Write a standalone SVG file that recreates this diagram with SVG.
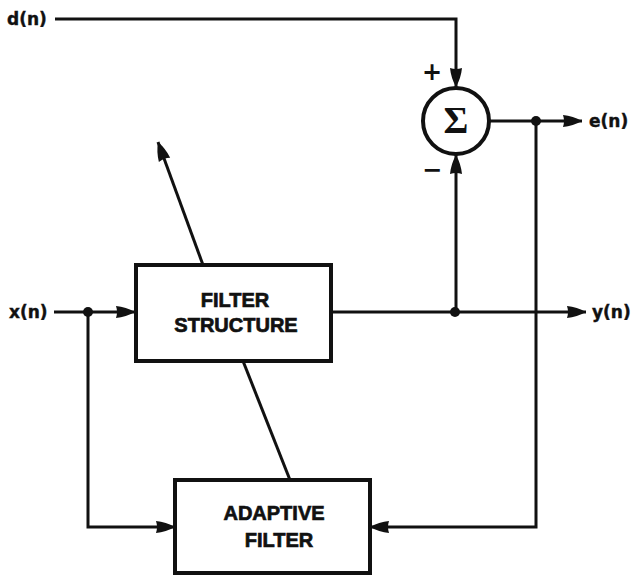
<svg xmlns="http://www.w3.org/2000/svg" width="633" height="575" viewBox="0 0 633 575">
<defs>
<style>
.ln{fill:none;stroke:#111;stroke-width:3;stroke-linejoin:miter}
.box{fill:#fff;stroke:#111;stroke-width:4}
.bt{font-family:"Liberation Sans",Arial,sans-serif;font-weight:bold;font-size:20px;fill:#111;stroke:#111;stroke-width:0.7;text-anchor:middle}
.lb{font-family:"DejaVu Sans",sans-serif;font-weight:bold;font-size:17px;fill:#111;stroke:#111;stroke-width:0.4}
.sg{font-family:"DejaVu Sans",sans-serif;font-weight:bold;font-size:24px;fill:#111;text-anchor:middle}
</style>
<marker id="ah" markerUnits="userSpaceOnUse" markerWidth="24" markerHeight="16" viewBox="-1 -8 22 16" refX="19" refY="0" orient="auto">
<path d="M0,-6 Q10,-5 19,0 Q10,5 0,6 Q2,0 0,-6 Z" fill="#111"/>
</marker>
</defs>
<rect width="633" height="575" fill="#fff"/>
<g id="connectors">
<polyline class="ln" points="55,19 456,19 456,87" marker-end="url(#ah)"/>
<line class="ln" x1="456" y1="312" x2="456" y2="155" marker-end="url(#ah)"/>
<line class="ln" x1="489" y1="121" x2="582" y2="121" marker-end="url(#ah)"/>
<line class="ln" x1="331" y1="312" x2="586" y2="312" marker-end="url(#ah)"/>
<line class="ln" x1="54" y1="312" x2="135" y2="312" marker-end="url(#ah)"/>
<polyline class="ln" points="88,312 88,527 175,527" marker-end="url(#ah)"/>
<polyline class="ln" points="536,121 536,527 370,527" marker-end="url(#ah)"/>
<line class="ln" x1="203" y1="265" x2="158" y2="142" marker-end="url(#ah)"/>
<line class="ln" x1="243" y1="361" x2="290" y2="480"/>
<circle cx="536" cy="121" r="5" fill="#111"/>
<circle cx="455" cy="312" r="5" fill="#111"/>
<circle cx="88" cy="312" r="5" fill="#111"/>
</g>
<g id="sum">
<circle cx="456" cy="121" r="33" fill="#fff" stroke="#111" stroke-width="4"/>
<text x="456" y="133" style="font-family:'Liberation Serif','Times New Roman',serif;font-weight:bold;font-size:38px;fill:#111;text-anchor:middle">Σ</text>
<text x="432" y="80" class="sg">+</text>
<text x="432" y="178" class="sg">−</text>
</g>
<g id="filter-structure">
<rect class="box" x="136" y="265" width="195" height="96"/>
<text class="bt" x="235" y="307">FILTER</text>
<text class="bt" x="236" y="332">STRUCTURE</text>
</g>
<g id="adaptive-filter">
<rect class="box" x="175" y="480" width="195" height="93"/>
<text class="bt" x="274" y="520">ADAPTIVE</text>
<text class="bt" x="279" y="547">FILTER</text>
</g>
<g id="labels">
<text class="lb" x="7" y="25">d(n)</text>
<text class="lb" x="9" y="318">x(n)</text>
<text class="lb" x="592" y="318">y(n)</text>
<text class="lb" x="589" y="127">e(n)</text>
</g>
</svg>
